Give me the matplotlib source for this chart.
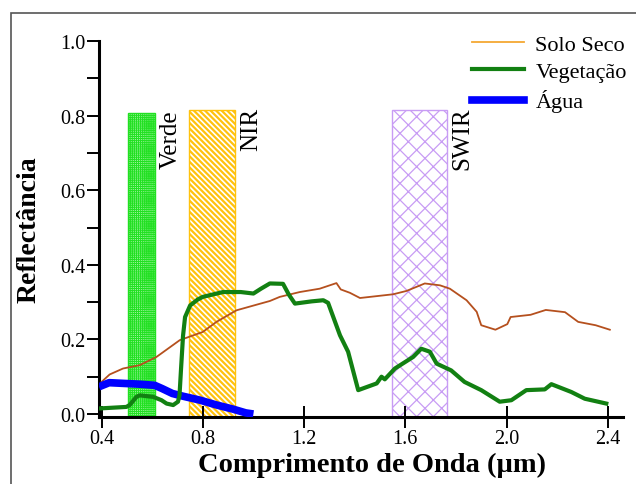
"""Curvas de reflectância espectral: solo seco, vegetação e água."""

import matplotlib

matplotlib.use("Agg")
import matplotlib.pyplot as plt
from matplotlib.lines import Line2D
from matplotlib.patches import Rectangle

# ---- dados ----
wl_solo = [0.40, 0.432, 0.485, 0.551, 0.617, 0.709, 0.80, 0.854, 0.933, 1.012,
           1.065, 1.104, 1.183, 1.262, 1.328, 1.345, 1.381, 1.421, 1.552, 1.605,
           1.677, 1.737, 1.776, 1.842, 1.882, 1.90, 1.956, 2.003, 2.016, 2.095,
           2.155, 2.231, 2.283, 2.352, 2.408]
solo = [0.086, 0.106, 0.122, 0.131, 0.153, 0.198, 0.220, 0.247, 0.278, 0.293,
        0.303, 0.314, 0.327, 0.336, 0.351, 0.334, 0.325, 0.311, 0.321, 0.330,
        0.350, 0.345, 0.336, 0.305, 0.274, 0.238, 0.226, 0.241, 0.260, 0.266,
        0.279, 0.273, 0.247, 0.238, 0.226]

wl_veg = [0.393, 0.498, 0.511, 0.538, 0.551, 0.604, 0.637, 0.657, 0.683, 0.702,
          0.708, 0.714, 0.722, 0.730, 0.750, 0.780, 0.80, 0.88, 0.95, 1.00,
          1.03, 1.065, 1.117, 1.14, 1.164, 1.23, 1.276, 1.295, 1.342, 1.374,
          1.414, 1.487, 1.506, 1.519, 1.559, 1.631, 1.663, 1.697, 1.724, 1.781,
          1.834, 1.90, 1.973, 2.019, 2.078, 2.151, 2.177, 2.256, 2.309, 2.394]
veg = [0.015, 0.019, 0.024, 0.046, 0.050, 0.046, 0.037, 0.028, 0.024, 0.033,
       0.050, 0.120, 0.210, 0.260, 0.291, 0.307, 0.314, 0.327, 0.327, 0.323,
       0.336, 0.350, 0.349, 0.320, 0.296, 0.302, 0.305, 0.298, 0.211, 0.167,
       0.064, 0.082, 0.100, 0.093, 0.122, 0.153, 0.175, 0.167, 0.135, 0.117,
       0.086, 0.064, 0.033, 0.037, 0.064, 0.066, 0.080, 0.059, 0.041, 0.028]

wl_agua = [0.39, 0.43, 0.49, 0.55, 0.61, 0.64, 0.68, 0.72, 0.79, 0.85, 0.92,
           0.97, 1.0]
agua = [0.073, 0.084, 0.082, 0.080, 0.077, 0.068, 0.055, 0.048, 0.037, 0.025,
        0.013, 0.003, 0.0]

band_names = ["Verde", "NIR", "SWIR"]
band_start = [0.505, 0.746, 1.546]
band_end = [0.61, 0.929, 1.763]
band_top = [0.806, 0.814, 0.814]

x_ticks = [0.4, 0.8, 1.2, 1.6, 2.0, 2.4]
y_ticks = [0.0, 0.2, 0.4, 0.6, 0.8, 1.0]
y_minor = [0.1, 0.3, 0.5, 0.7, 0.9]

# ---- estilo ----
plt.rcParams["font.family"] = ["Liberation Serif", "DejaVu Serif"]

XLIM = (0.39, 2.46)
YLIM = (-0.008, 1.0)

band_styles = [
    dict(facecolor="#9af59a", edgecolor="#22e022", hatch="++++++++", hlw=0.7),
    dict(facecolor="white", edgecolor="#ffc20e", hatch="\\\\\\\\\\\\", hlw=1.6),
    dict(facecolor="white", edgecolor="#c89cf4", hatch="xx", hlw=0.9),
]


def draw_bands(ax):
    for name, x0, x1, top, st in zip(band_names, band_start, band_end, band_top, band_styles):
        plt.rcParams["hatch.linewidth"] = st["hlw"]
        rect = Rectangle((x0, YLIM[0]), x1 - x0, top - YLIM[0],
                         facecolor=st["facecolor"], edgecolor=st["edgecolor"],
                         hatch=st["hatch"], linewidth=1.0, zorder=1)
        if hasattr(rect, "set_hatch_linewidth"):
            rect.set_hatch_linewidth(st["hlw"])
        ax.add_patch(rect)
        ax.text(x1 + 0.064, top + 0.01, name, rotation=90, ha="center",
                va="top", fontsize=18, color="black", zorder=5)


def main():
    fig = plt.figure(figsize=(6.36, 4.85), dpi=100)
    ax = fig.add_axes([99 / 636, 1 - 418 / 485, 524 / 636, 376 / 485])

    # moldura cinza (cortada à direita e embaixo)
    fig.patches.append(Rectangle((11 / 636, -0.1), 1.2, 0.1 + 1 - 14 / 485,
                                 transform=fig.transFigure, fill=False,
                                 edgecolor="#555555", linewidth=1.2))

    draw_bands(ax)

    ax.plot(wl_solo, solo, color="#b5501e", linewidth=1.3, zorder=3)
    ax.plot(wl_agua, agua, color="#0000ff", linewidth=5.5, zorder=3.5,
            solid_capstyle="butt")
    ax.plot(wl_veg, veg, color="#128012", linewidth=3.0, zorder=4)

    ax.set_xlim(*XLIM)
    ax.set_ylim(*YLIM)
    ax.set_xticks(x_ticks)
    ax.set_xticklabels([f"{v:.1f}" for v in x_ticks])
    ax.set_yticks(y_ticks)
    ax.set_yticklabels([f"{v:.1f}" for v in y_ticks])
    ax.set_yticks(y_minor, minor=True)

    for side in ("top", "right"):
        ax.spines[side].set_visible(False)
    for side in ("left", "bottom"):
        ax.spines[side].set_linewidth(2.2)

    ax.tick_params(axis="x", which="major", direction="inout", length=16,
                   width=1.4, labelsize=14.5, pad=1)
    ax.tick_params(axis="y", which="both", direction="out", length=9,
                   width=1.4, labelsize=14.5, pad=1)

    ax.set_xlabel("Comprimento de Onda (µm)", fontsize=20.5, fontweight="bold")
    ax.xaxis.set_label_coords((372 - 99) / 524, -0.093, transform=ax.transAxes)
    ax.xaxis.label.set_va("top")
    ax.set_ylabel("Reflectância", fontsize=20, fontweight="bold", labelpad=13)

    handles = [
        Line2D([], [], color="#f5a833", linewidth=1.3),
        Line2D([], [], color="#128012", linewidth=3.0),
        Line2D([], [], color="#0000ff", linewidth=5.5),
    ]
    ax.legend(handles, ["Solo Seco", "Vegetação", "Água"], loc="upper left",
              bbox_to_anchor=(472 / 636, 1 - 35 / 485),
              bbox_transform=fig.transFigure, frameon=False, fontsize=16,
              handlelength=2.35, handletextpad=0.5, labelspacing=0.32,
              borderpad=0, borderaxespad=0)

    fig.savefig("out.png", dpi=100)
    plt.close(fig)


if __name__ == "__main__":
    main()
